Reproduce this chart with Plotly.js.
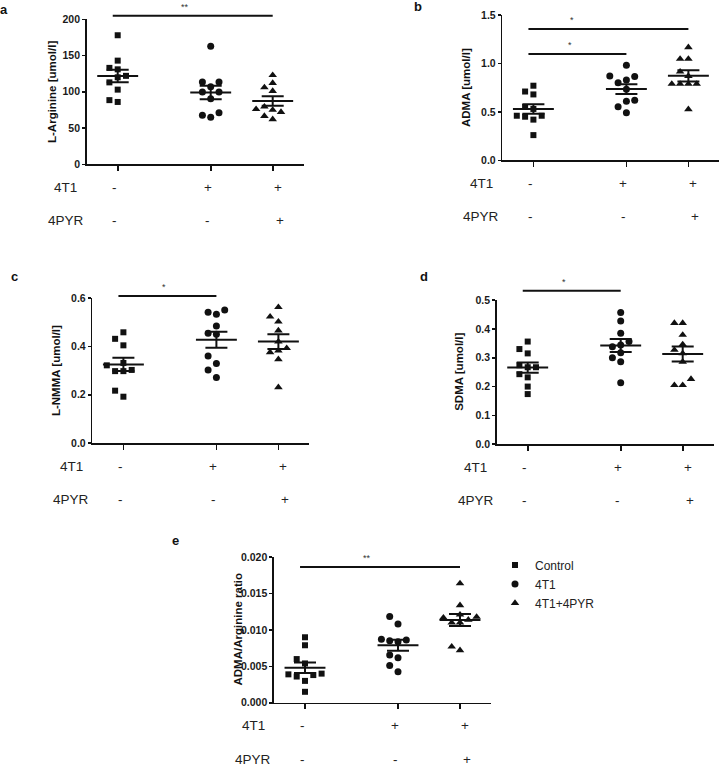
<!DOCTYPE html>
<html><head><meta charset="utf-8">
<script src="https://cdn.plot.ly/plotly-3.0.1.min.js"></script>
<style>html,body{margin:0;padding:0;background:#fff}#chart{width:720px;height:764px}</style>
</head><body><div id="chart"></div>
<script>
// ---------------- data ----------------
const groups = ['Control', '4T1', '4T1+4PYR'];
const row4T1 = ['-', '+', '+'];
const row4PYR = ['-', '-', '+'];

const argControl = [178, 143, 133, 131, 122, 120, 113, 103, 88.5, 86];
const arg4T1 = [162.7, 113.5, 113.5, 107, 99.7, 99.7, 90.5, 71.2, 67.6, 64.8];
const arg4T1PYR = [123, 112, 106, 101, 79.5, 76, 75, 72, 66.6, 62];

const admaControl = [0.77, 0.71, 0.68, 0.55, 0.53, 0.46, 0.46, 0.45, 0.42, 0.26];
const adma4T1 = [0.98, 0.87, 0.865, 0.83, 0.80, 0.733, 0.62, 0.61, 0.553, 0.49];
const adma4T1PYR = [1.166, 1.046, 1.046, 0.915, 0.87, 0.788, 0.788, 0.788, 0.788, 0.526];

const lnmmaControl = [0.459, 0.432, 0.405, 0.332, 0.322, 0.303, 0.298, 0.298, 0.217, 0.192];
const lnmma4T1 = [0.551, 0.542, 0.534, 0.485, 0.455, 0.451, 0.361, 0.330, 0.303, 0.272];
const lnmma4T1PYR = [0.563, 0.524, 0.503, 0.466, 0.42, 0.393, 0.383, 0.376, 0.347, 0.231];

const sdmaControl = [0.356, 0.33, 0.315, 0.274, 0.267, 0.267, 0.243, 0.232, 0.2, 0.174];
const sdma4T1 = [0.457, 0.427, 0.385, 0.356, 0.344, 0.338, 0.317, 0.30, 0.286, 0.213];
const sdma4T1PYR = [0.42, 0.42, 0.379, 0.346, 0.327, 0.315, 0.286, 0.226, 0.205, 0.205];

const ratioControl = [0.0090, 0.0079, 0.0060, 0.0054, 0.0040, 0.0039, 0.0038, 0.0036, 0.0030, 0.0015];
const ratio4T1 = [0.01184, 0.01083, 0.00873, 0.00863, 0.00853, 0.0084, 0.00657, 0.0062, 0.0051, 0.00427];
const ratio4T1PYR = [0.0164, 0.0134, 0.0121, 0.0118, 0.0117, 0.0114, 0.0110, 0.0110, 0.0077, 0.0072];

const panelData = [
  [argControl, arg4T1, arg4T1PYR],
  [admaControl, adma4T1, adma4T1PYR],
  [lnmmaControl, lnmma4T1, lnmma4T1PYR],
  [sdmaControl, sdma4T1, sdma4T1PYR],
  [ratioControl, ratio4T1, ratio4T1PYR]
];
const yTitles = ['L-Arginine [umol/l]', 'ADMA [umol/l]', 'L-NMMA [umol/l]', 'SDMA [umol/l]', 'ADMA/Arginine ratio'];
const yMax = [200, 1.5, 0.6, 0.5, 0.02];
const yTickStep = [50, 0.5, 0.2, 0.1, 0.005];
const yTickFormat = ['d', '.1f', '.1f', '.1f', '.3f'];
const panelLetters = ['a', 'b', 'c', 'd', 'e'];
const sigPairs = [[[0, 2]], [[0, 2], [0, 1]], [[0, 1]], [[0, 1]], [[0, 2]]];
const sigLabels = [['**'], ['*', '*'], ['*'], ['*'], ['**']];

// ---------------- layout config (pixels) ----------------
const W = 720, H = 764;
const catX = [0, 1.5, 2.5];
const xRange = [-0.5, 3.0];
const unitPx = 62;
const geo = [ // left, top, bottom of each plot area
  {l: 86.7, t: 19.3, b: 164.3, letter: [3.5, 10], titleOff: 34.5, sigY: [1.025], sigFrac: [0.45]},
  {l: 502.4, t: 15, b: 160.3, letter: [417.5, 6], titleOff: 37, sigY: [0.9036, 0.7316], sigFrac: [0.27, 0.42]},
  {l: 92.4, t: 298.3, b: 443, letter: [14, 276], titleOff: 37, sigY: [1.016], sigFrac: [0.46]},
  {l: 496.7, t: 300, b: 444.3, letter: [424, 276], titleOff: 38, sigY: [1.064], sigFrac: [0.42]},
  {l: 274, t: 557.3, b: 702.7, letter: [175, 540], titleOff: 36.5, sigY: [0.934], sigFrac: [0.42]}
];
const symbols = ['square', 'circle', 'triangle-up'];
const symSize = [6, 7, 7.5];
const INK = '#111';
const FONT = 'Liberation Sans, Arial, sans-serif';

function mean(a) { return a.reduce((s, v) => s + v, 0) / a.length; }
function sem(a) {
  const m = mean(a);
  const v = a.reduce((s, x) => s + (x - m) * (x - m), 0) / (a.length - 1);
  return Math.sqrt(v) / Math.sqrt(a.length);
}
// simple grid beeswarm (pixel based collision test)
function swarm(vals, pxPerUnitY) {
  const stepPx = 8.3, thrPx = 7.5;
  const idx = vals.map((v, i) => i).sort((a, b) => vals[a] - vals[b]);
  const placed = [];
  const cols = new Array(vals.length).fill(0);
  const order = [0, -1, 1, -2, 2, -3, 3, -4, 4];
  idx.forEach(i => {
    const ypx = vals[i] * pxPerUnitY;
    for (const c of order) {
      if (!placed.some(p => p.col === c && Math.abs(p.ypx - ypx) < thrPx)) {
        cols[i] = c; placed.push({col: c, ypx}); break;
      }
    }
  });
  return cols.map(c => c * stepPx / unitPx);
}

const traces = [];
const layout = {
  width: W, height: H, autosize: false,
  margin: {l: 0, r: 0, t: 0, b: 0},
  paper_bgcolor: '#fff', plot_bgcolor: 'rgba(0,0,0,0)',
  font: {family: FONT, color: '#222'},
  showlegend: true,
  legend: {
    x: 495 / W, y: 1 - 550.5 / H, xanchor: 'left', yanchor: 'top',
    font: {family: FONT, size: 12, color: '#222'},
    bgcolor: 'rgba(0,0,0,0)', borderwidth: 0, tracegroupgap: 0
  },
  shapes: [], annotations: []
};

geo.forEach((g, k) => {
  const n = k === 0 ? '' : String(k + 1);
  const xa = 'x' + n, ya = 'y' + n;
  const hPx = g.b - g.t;
  const wPx = (xRange[1] - xRange[0]) * unitPx;
  layout['xaxis' + n] = {
    domain: [g.l / W, (g.l + wPx) / W], range: xRange, anchor: ya,
    showline: true, linecolor: INK, linewidth: 1.6,
    ticks: 'outside', ticklen: 5, tickwidth: 1.6, tickcolor: INK,
    tickmode: 'array', tickvals: catX, showticklabels: false,
    showgrid: false, zeroline: false, fixedrange: true
  };
  layout['yaxis' + n] = {
    domain: [1 - g.b / H, 1 - g.t / H], range: [0, yMax[k]], anchor: xa,
    showline: true, linecolor: INK, linewidth: 1.6,
    ticks: 'outside', ticklen: 3, tickwidth: 1.6, tickcolor: INK,
    tickmode: 'linear', tick0: 0, dtick: yTickStep[k], tickformat: yTickFormat[k],
    tickfont: {family: FONT, size: 10.5, color: '#1a1a1a', weight: 'bold'},
    showgrid: false, zeroline: false, fixedrange: true
  };
  const pxPerUnitY = hPx / yMax[k];
  panelData[k].forEach((vals, gi) => {
    const offs = swarm(vals, pxPerUnitY);
    traces.push({
      type: 'scatter', mode: 'markers', xaxis: xa, yaxis: ya,
      x: vals.map((v, i) => catX[gi] + offs[i]), y: vals,
      name: groups[gi], showlegend: k === 4, legendrank: gi,
      marker: {symbol: symbols[gi], size: symSize[gi], color: INK, line: {width: 0}},
      cliponaxis: false, hoverinfo: 'y'
    });
  });
  panelData[k].forEach((vals, gi) => {
    traces.push({
      type: 'scatter', mode: 'markers', xaxis: xa, yaxis: ya,
      x: [catX[gi]], y: [mean(vals)], showlegend: false, hoverinfo: 'skip',
      marker: {size: 2, color: 'rgba(0,0,0,0)'},
      error_y: {type: 'data', array: [sem(vals)], visible: true, width: 11, thickness: 2, color: INK},
      error_x: {type: 'constant', value: 0.33, visible: true, width: 0, thickness: 2, color: INK}
    });
  });
  // significance bars
  sigPairs[k].forEach((p, si) => {
    const x0 = catX[p[0]] - 0.08, x1 = catX[p[1]];
    layout.shapes.push({type: 'line', xref: xa, yref: ya + ' domain', x0, x1,
      y0: g.sigY[si], y1: g.sigY[si], line: {color: INK, width: 2}});
    layout.annotations.push({xref: xa, yref: ya + ' domain', x: x0 + (x1 - x0) * g.sigFrac[si],
      y: g.sigY[si], yanchor: 'middle', yshift: 9, showarrow: false, text: sigLabels[k][si],
      font: {family: FONT, size: 9, color: '#333'}});
  });
  // row labels
  [['4T1', row4T1, -23, 5], ['4PYR', row4PYR, -56.5, 7]].forEach(r => {
    layout.annotations.push({xref: xa + ' domain', yref: ya + ' domain', x: 0, y: 0,
      xshift: -21, yshift: r[2], xanchor: 'center', yanchor: 'middle', showarrow: false,
      text: r[0], font: {family: FONT, size: 13.5, color: '#222'}});
    r[1].forEach((s, gi) => {
      layout.annotations.push({xref: xa, yref: ya + ' domain', x: catX[gi], y: 0,
        xshift: gi === 2 ? r[3] : -3, yshift: r[2], xanchor: 'center', yanchor: 'middle',
        showarrow: false, text: s, font: {family: FONT, size: 13.5, color: '#222'}});
    });
  });
  // y-axis title
  layout.annotations.push({xref: xa + ' domain', yref: ya + ' domain', x: 0, y: 0.5,
    xshift: -g.titleOff, textangle: -90, xanchor: 'center', yanchor: 'middle', showarrow: false,
    text: yTitles[k], font: {family: FONT, size: 11.5, color: '#111', weight: 'bold'}});
  // panel letter
  layout.annotations.push({xref: 'paper', yref: 'paper', x: g.letter[0] / W, y: 1 - g.letter[1] / H,
    xanchor: 'center', yanchor: 'middle', showarrow: false, text: panelLetters[k],
    font: {family: FONT, size: 13, color: '#111', weight: 'bold'}});
});

Plotly.newPlot('chart', traces, layout, {displayModeBar: false, staticPlot: true});
</script>
</body></html>
